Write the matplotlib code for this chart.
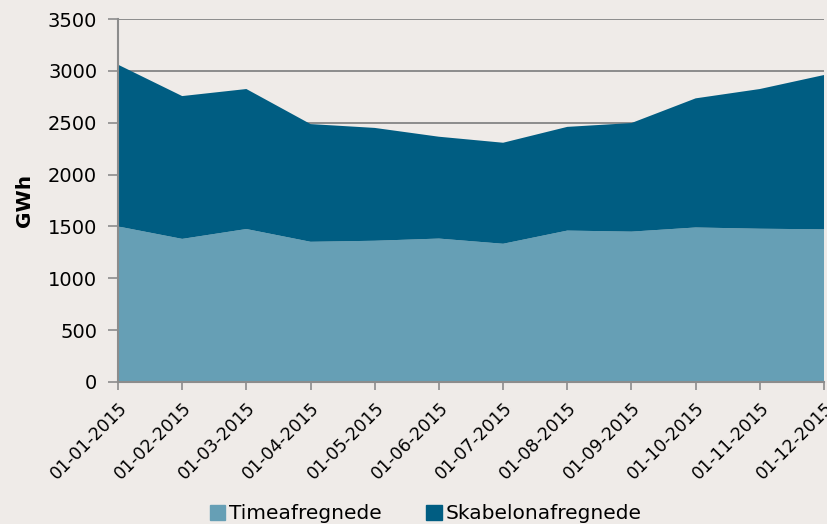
import numpy as np
import matplotlib.pyplot as plt
from matplotlib.patches import Patch

months = ['01-01-2015', '01-02-2015', '01-03-2015', '01-04-2015', '01-05-2015', '01-06-2015',
          '01-07-2015', '01-08-2015', '01-09-2015', '01-10-2015', '01-11-2015', '01-12-2015']
timea = [1500, 1380, 1475, 1352, 1362, 1383, 1333, 1460, 1450, 1490, 1478, 1472]
total = [3060, 2757, 2825, 2487, 2450, 2365, 2307, 2460, 2497, 2735, 2825, 2960]
skabelon = [t - a for t, a in zip(total, timea)]

c_light = '#669fb5'
c_dark = '#005d82'
bg = '#efebe8'
grid_c = '#8c8c8c'

fig = plt.figure(figsize=(8.27, 5.24), dpi=100, facecolor=bg)
ax = fig.add_axes([0.1427, 0.271, 0.8537, 0.6927], facecolor=bg)

x = np.arange(len(months))
ax.stackplot(x, timea, skabelon, colors=[c_light, c_dark], linewidth=0)

ax.set_xlim(0, 11)
ax.set_ylim(0, 3500)
ax.set_yticks(range(0, 3501, 500))
ax.yaxis.grid(True, color=grid_c, linewidth=1.4)
ax.set_axisbelow(True)
ax.set_xticks(x)
ax.set_xticklabels(months, rotation=45, ha='right', rotation_mode='anchor', fontsize=12.5)
ax.tick_params(axis='y', labelsize=14, length=7, color=grid_c, width=1.2, pad=8)
ax.tick_params(axis='x', length=6, color=grid_c, width=1.2, pad=6)
for s in ['top', 'right']:
    ax.spines[s].set_visible(False)
for s in ['left', 'bottom']:
    ax.spines[s].set_color(grid_c)
    ax.spines[s].set_linewidth(1.5)
ax.set_ylabel('GWh', fontsize=14.5, fontweight='bold', labelpad=10)

handles = [Patch(color=c_light, label='Timeafregnede'),
           Patch(color=c_dark, label='Skabelonafregnede')]
fig.legend(handles=handles, loc='lower center', bbox_to_anchor=(0.515, -0.033), ncol=2,
           frameon=False, fontsize=14.5, handlelength=0.75, handleheight=0.75,
           handletextpad=0.2, columnspacing=2.2)

fig.savefig('out.png', dpi=100, facecolor=bg)
